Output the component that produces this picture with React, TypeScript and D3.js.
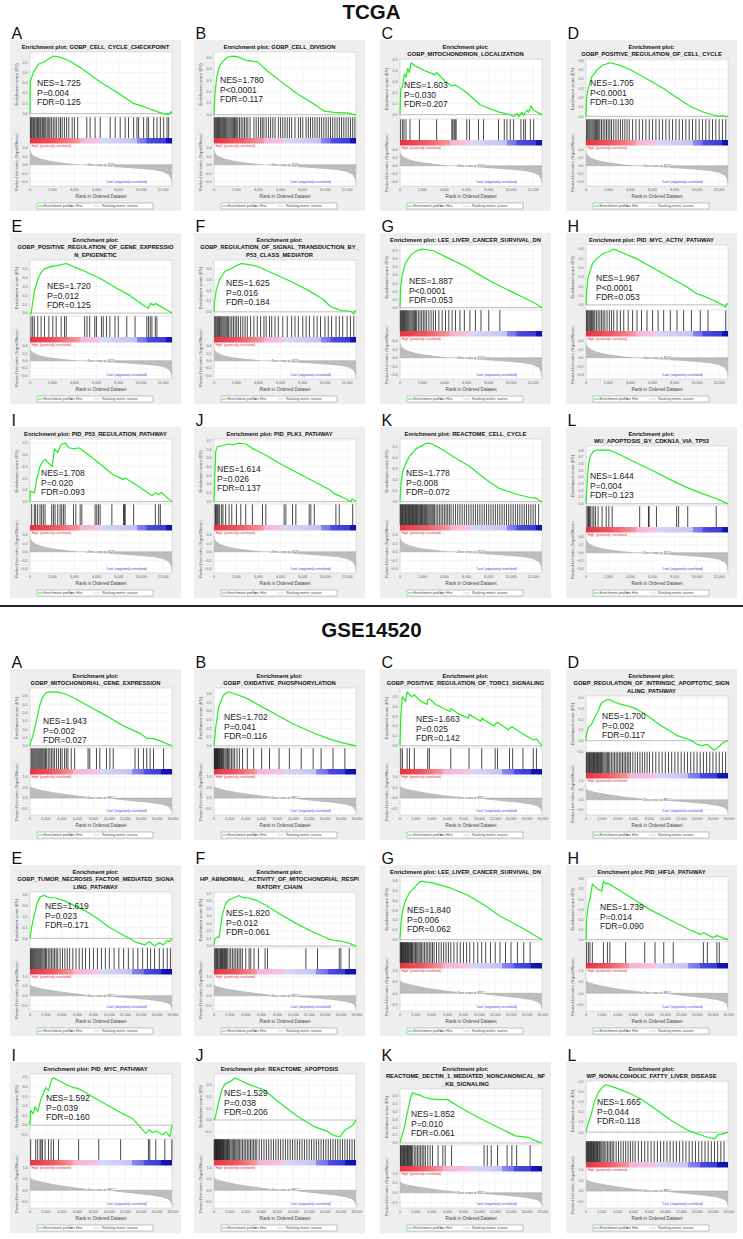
import React from 'react';
import * as d3 from 'd3';

type Pt = [number, number];
const FONT = "'Liberation Sans', Arial, Helvetica, sans-serif";

// ---------- shared axes / metric data ----------
const tcgaN = 12800;
const gseN = 17900;
const tcgaXTicks = [0, 2000, 4000, 6000, 8000, 10000, 12000];
const gseXTicks = [0, 2000, 4000, 6000, 8000, 10000, 12000, 14000, 16000, 18000];
const tcgaMetricTicks = [-0.4, -0.2, 0, 0.2, 0.4];
const gseMetricTicks = [-0.5, 0, 0.5, 1.0];
const tcgaMetricDomain: Pt = [-0.5, 0.5];
const gseMetricDomain: Pt = [-0.78, 1.09];
const tcgaZeroCross = 4520;
const gseZeroCross = 8912;
const tcgaMetric: Pt[] = [[0, 0.38], [50, 0.31], [200, 0.25], [500, 0.19], [1000, 0.14], [1800, 0.09], [3000, 0.05], [4520, 0], [6500, -0.04], [8500, -0.07], [10000, -0.1], [11200, -0.13], [12000, -0.17], [12500, -0.24], [12700, -0.33], [12800, -0.5]];
const gseMetric: Pt[] = [[0, 0.6], [100, 0.53], [500, 0.46], [1500, 0.37], [3000, 0.27], [5000, 0.16], [7000, 0.07], [8912, 0], [11000, -0.07], [13000, -0.14], [15000, -0.22], [16500, -0.3], [17300, -0.38], [17700, -0.48], [17900, -0.7]];

const letters = ['A', 'B', 'C', 'D', 'E', 'F', 'G', 'H', 'I', 'J', 'K', 'L'];

// ---------- TCGA ----------
const tcgaTitles: string[][] = [
  ['Enrichment plot: GOBP_CELL_CYCLE_CHECKPOINT'],
  ['Enrichment plot: GOBP_CELL_DIVISION'],
  ['Enrichment plot:', 'GOBP_MITOCHONDRION_LOCALIZATION'],
  ['Enrichment plot:', 'GOBP_POSITIVE_REGULATION_OF_CELL_CYCLE'],
  ['Enrichment plot:', 'GOBP_POSITIVE_REGULATION_OF_GENE_EXPRESSIO', 'N_EPIGENETIC'],
  ['Enrichment plot:', 'GOBP_REGULATION_OF_SIGNAL_TRANSDUCTION_BY_', 'P53_CLASS_MEDIATOR'],
  ['Enrichment plot: LEE_LIVER_CANCER_SURVIVAL_DN'],
  ['Enrichment plot: PID_MYC_ACTIV_PATHWAY'],
  ['Enrichment plot: PID_P53_REGULATION_PATHWAY'],
  ['Enrichment plot: PID_PLK1_PATHWAY'],
  ['Enrichment plot: REACTOME_CELL_CYCLE'],
  ['Enrichment plot:', 'WU_APOPTOSIS_BY_CDKN1A_VIA_TP53'],
];
const tcgaNES = ['1.725', '1.780', '1.603', '1.705', '1.720', '1.625', '1.887', '1.967', '1.708', '1.614', '1.778', '1.644'];
const tcgaP = ['P=0.004', 'P<0.0001', 'P=0.030', 'P<0.0001', 'P=0.012', 'P=0.016', 'P<0.0001', 'P<0.0001', 'P=0.020', 'P=0.026', 'P=0.008', 'P=0.004'];
const tcgaFDR = ['0.125', '0.117', '0.207', '0.130', '0.125', '0.184', '0.053', '0.053', '0.093', '0.137', '0.072', '0.123'];

const esTA: Pt[] = [[0, 0], [30, 0.32], [150, 0.35], [300, 0.4], [750, 0.48], [1200, 0.5], [1650, 0.53], [2100, 0.56], [2700, 0.55], [3600, 0.51], [4800, 0.43], [6300, 0.31], [7800, 0.21], [9300, 0.1], [10200, 0.07], [11450, 0.02], [12000, 0], [12500, -0.01], [12700, 0.02], [12800, 0]];
const esTB: Pt[] = [[0, 0], [90, 0.18], [240, 0.32], [450, 0.41], [750, 0.46], [1200, 0.5], [1660, 0.51], [2110, 0.505], [3010, 0.47], [3920, 0.46], [4820, 0.38], [6020, 0.29], [7530, 0.18], [9040, 0.09], [9940, 0.03], [10840, 0.02], [11440, 0.015], [12050, 0.015], [12650, 0], [12800, 0]];
const esTC: Pt[] = [[0, 0], [60, 0.23], [240, 0.26], [390, 0.37], [540, 0.34], [700, 0.42], [850, 0.38], [990, 0.47], [1400, 0.44], [2200, 0.4], [3160, 0.36], [3300, 0.38], [4100, 0.3], [4670, 0.26], [4970, 0.27], [6000, 0.2], [7220, 0.09], [8730, 0.03], [9030, 0.02], [9930, 0], [10240, -0.02], [10540, 0.01], [10690, -0.02], [10990, 0.02], [11140, -0.005], [11440, 0.04], [11590, 0.02], [11800, 0.08], [12040, 0.04], [12800, 0]];
const esTD: Pt[] = [[0, 0], [60, 0.2], [200, 0.3], [500, 0.42], [1000, 0.5], [1500, 0.55], [2200, 0.575], [3000, 0.55], [4000, 0.5], [5500, 0.4], [7000, 0.3], [8200, 0.2], [9500, 0.1], [10500, 0.05], [11300, 0.02], [12000, 0], [12300, 0.01], [12600, -0.005], [12800, 0]];
const esTE: Pt[] = [[0, 0], [100, -0.01], [240, 0.12], [400, 0.25], [700, 0.38], [1000, 0.46], [1300, 0.5], [1700, 0.52], [2100, 0.53], [2500, 0.54], [3270, 0.56], [4000, 0.52], [5000, 0.47], [6500, 0.38], [7800, 0.28], [9000, 0.2], [10300, 0.08], [10690, 0.055], [10850, 0.11], [11150, 0.09], [11300, 0.11], [12800, 0]];
const esTF: Pt[] = [[0, 0], [60, 0.1], [200, 0.2], [500, 0.3], [1000, 0.38], [1500, 0.4], [2000, 0.43], [2500, 0.45], [3200, 0.44], [4000, 0.42], [5500, 0.35], [7000, 0.28], [8500, 0.2], [9800, 0.12], [10500, 0.05], [11000, 0.03], [11500, 0.01], [12000, 0.01], [12400, 0], [12600, -0.02], [12700, 0.01], [12800, 0.005]];
const esTG: Pt[] = [[0, 0], [60, 0.25], [200, 0.4], [500, 0.55], [1000, 0.65], [1500, 0.7], [2000, 0.72], [3000, 0.7], [4500, 0.6], [6000, 0.5], [7200, 0.4], [8500, 0.3], [10000, 0.2], [11500, 0.1], [12200, 0.05], [12800, 0]];
const esTH: Pt[] = [[0, 0], [60, 0.15], [200, 0.3], [600, 0.45], [1000, 0.5], [1500, 0.55], [2200, 0.58], [2500, 0.6], [3500, 0.55], [4500, 0.5], [6000, 0.4], [7500, 0.3], [9000, 0.2], [10000, 0.12], [10500, 0.1], [11500, 0.05], [12300, 0], [12600, -0.03], [12650, 0.01], [12800, 0.01]];
const esTI: Pt[] = [[0, 0], [20, 0.09], [400, 0.075], [600, 0.19], [900, 0.3], [1200, 0.35], [1400, 0.36], [1650, 0.33], [2000, 0.3], [2200, 0.45], [2500, 0.42], [2800, 0.49], [3200, 0.5], [3500, 0.46], [4000, 0.45], [4400, 0.46], [5000, 0.42], [6200, 0.33], [7500, 0.23], [8400, 0.19], [8600, 0.2], [9800, 0.13], [11000, 0.05], [11300, 0.075], [11600, 0.06], [11800, 0.08], [12800, 0]];
const esTJ: Pt[] = [[0, 0], [150, 0.57], [300, 0.63], [750, 0.64], [1350, 0.66], [1650, 0.65], [2250, 0.67], [2860, 0.66], [3460, 0.61], [4670, 0.53], [6170, 0.42], [7680, 0.32], [9190, 0.22], [10390, 0.14], [11000, 0.08], [11440, 0.06], [12350, 0], [12440, 0.03], [12800, 0.01]];
const esTK: Pt[] = [[0, 0], [100, 0.17], [240, 0.27], [540, 0.35], [840, 0.41], [1140, 0.44], [1440, 0.48], [1890, 0.5], [2190, 0.52], [2490, 0.53], [2940, 0.52], [3850, 0.47], [4750, 0.41], [6250, 0.32], [7750, 0.2], [8950, 0.12], [9850, 0.09], [10750, 0.06], [11660, 0.04], [12260, 0.03], [12800, 0]];
const esTL: Pt[] = [[0, 0], [120, 0.35], [240, 0.6], [390, 0.72], [690, 0.79], [1090, 0.81], [1450, 0.8], [1750, 0.81], [2200, 0.8], [3270, 0.72], [4480, 0.62], [5990, 0.5], [7500, 0.37], [9020, 0.25], [10530, 0.15], [11740, 0.08], [12800, 0]];

const hitsTA = [40, 120, 200, 300, 380, 450, 560, 650, 720, 800, 900, 980, 1100, 1180, 1260, 1350, 1450, 1600, 1700, 1800, 1950, 2100, 2250, 2400, 2600, 2750, 2900, 3100, 3300, 3500, 3800, 4000, 4300, 5120, 5420, 5870, 6330, 7230, 7680, 8130, 8580, 8880, 9340, 9640, 9790, 10240, 10540, 10690, 11150, 11450, 11750, 12050, 12350, 12500];
const hitsTB = [30, 100, 180, 250, 330, 400, 480, 560, 640, 720, 800, 880, 960, 1050, 1150, 1250, 1350, 1450, 1550, 1650, 1750, 1850, 1950, 2050, 2150, 2300, 2450, 2600, 2750, 2900, 3050, 3250, 3600, 3800, 4000, 4200, 4350, 4500, 4700, 4900, 5100, 5300, 5500, 5800, 6000, 6200, 6400, 6600, 6800, 7000, 7300, 7600, 7800, 8000, 8300, 8500, 8700, 8900, 9100, 9300, 9500, 9700, 9900, 10100, 10300, 10500, 10700, 10900, 11100, 11300, 11500, 11700, 11900, 12100, 12300, 12500, 12700];
const hitsTC = [60, 240, 360, 540, 900, 1750, 3300, 4670, 4760, 4880, 4970, 5060, 6020, 6260, 7080, 7530, 8880, 9400, 9640, 9940, 10240, 10900, 11150, 11300, 11750, 12050];
const hitsTD = [50, 150, 250, 350, 450, 550, 650, 750, 850, 950, 1050, 1150, 1250, 1400, 1550, 1700, 1850, 2000, 2150, 2300, 2500, 2700, 2900, 3100, 3300, 3500, 3700, 3900, 4200, 4500, 4800, 5100, 5400, 5700, 6000, 6300, 6600, 6900, 7200, 7500, 7800, 8100, 8400, 8700, 9000, 9300, 9600, 9900, 10200, 10500, 10800, 11100, 11400, 11700, 12000, 12300, 12600];
const hitsTE = [90, 240, 390, 700, 1000, 1300, 1700, 2060, 2360, 2810, 3110, 3270, 4930, 5140, 5380, 5840, 5990, 6440, 6600, 6900, 7200, 7660, 7960, 8720, 9470, 10530, 10680, 10840, 10990, 11290, 11440];
const hitsTF = [60, 150, 250, 330, 420, 500, 600, 700, 800, 900, 1000, 1100, 1200, 1300, 1450, 1600, 1750, 1900, 2050, 2200, 2400, 2600, 2800, 3000, 3300, 3600, 3900, 4200, 4500, 4700, 5000, 5200, 5500, 5800, 6200, 6600, 7000, 7300, 7600, 8000, 8300, 8600, 9000, 9300, 9600, 10000, 10300, 10600, 11000, 11300, 11600, 12000, 12300, 12600];
const hitsTG = [30, 100, 170, 240, 320, 400, 480, 560, 640, 720, 800, 900, 1000, 1100, 1200, 1300, 1400, 1500, 1650, 1800, 1950, 2100, 2250, 2400, 2600, 2800, 3000, 3200, 3500, 3800, 4100, 4400, 4700, 5000, 5400, 5800, 6300, 6800, 7300, 8000, 9000];
const hitsTH = [40, 120, 200, 300, 400, 500, 600, 700, 800, 950, 1100, 1250, 1400, 1550, 1700, 1900, 2100, 2300, 2500, 2800, 3100, 3400, 3800, 4200, 4600, 5000, 5500, 6000, 6500, 7000, 7600, 8200, 8800, 9500, 10300, 11000, 12600];
const hitsTI = [150, 390, 510, 690, 900, 1050, 1200, 1360, 1960, 2110, 2260, 2500, 2710, 2860, 3010, 3160, 3920, 4130, 4520, 4670, 5870, 6020, 6170, 6320, 7380, 8430, 8520, 8580, 9340, 11300, 11600, 11750];
const hitsTJ = [90, 150, 210, 300, 390, 510, 690, 810, 1050, 1360, 1600, 2020, 2410, 2860, 3460, 4370, 4670, 6320, 6480, 7080, 7380, 8580, 8730, 9040, 10990, 11290, 12500];
const hitsTK = [20, 80, 150, 220, 290, 360, 430, 500, 570, 640, 710, 780, 850, 920, 990, 1060, 1130, 1200, 1270, 1340, 1410, 1480, 1550, 1620, 1700, 1780, 1860, 1940, 2020, 2100, 2200, 2300, 2400, 2500, 2600, 2700, 2800, 2900, 3000, 3100, 3250, 3400, 3550, 3700, 3850, 4000, 4150, 4300, 4450, 4600, 4800, 5000, 5200, 5400, 5600, 5800, 6000, 6200, 6400, 6600, 6800, 7000, 7200, 7400, 7600, 7800, 8000, 8200, 8400, 8600, 8800, 9000, 9200, 9400, 9600, 9800, 10000, 10200, 10400, 10600, 10800, 11000, 11200, 11400, 11600, 11800, 12000, 12200, 12500];
const hitsTL = [90, 180, 240, 300, 390, 550, 700, 850, 1090, 1450, 1820, 2060, 2360, 4840, 5630, 5690, 6350, 8170, 8350, 9170, 11740];

// ---------- GSE14520 ----------
const gseTitles: string[][] = [
  ['Enrichment plot:', 'GOBP_MITOCHONDRIAL_GENE_EXPRESSION'],
  ['Enrichment plot:', 'GOBP_OXIDATIVE_PHOSPHORYLATION'],
  ['Enrichment plot:', 'GOBP_POSITIVE_REGULATION_OF_TORC1_SIGNALING'],
  ['Enrichment plot:', 'GOBP_REGULATION_OF_INTRINSIC_APOPTOTIC_SIGN', 'ALING_PATHWAY'],
  ['Enrichment plot:', 'GOBP_TUMOR_NECROSIS_FACTOR_MEDIATED_SIGNA', 'LING_PATHWAY'],
  ['Enrichment plot:', 'HP_ABNORMAL_ACTIVITY_OF_MITOCHONDRIAL_RESPI', 'RATORY_CHAIN'],
  ['Enrichment plot: LEE_LIVER_CANCER_SURVIVAL_DN'],
  ['Enrichment plot: PID_HIF1A_PATHWAY'],
  ['Enrichment plot: PID_MYC_PATHWAY'],
  ['Enrichment plot: REACTOME_APOPTOSIS'],
  ['Enrichment plot:', 'REACTOME_DECTIN_1_MEDIATED_NONCANONICAL_NF', '_KB_SIGNALING'],
  ['Enrichment plot:', 'WP_NONALCOHOLIC_FATTY_LIVER_DISEASE'],
];
const gseNES = ['1.943', '1.702', '1.663', '1.700', '1.619', '1.820', '1.840', '1.739', '1.592', '1.529', '1.852', '1.665'];
const gseP = ['P=0.002', 'P=0.041', 'P=0.025', 'P=0.002', 'P=0.023', 'P=0.012', 'P=0.006', 'P=0.014', 'P=0.039', 'P=0.038', 'P=0.010', 'P=0.044'];
const gseFDR = ['0.027', '0.116', '0.142', '0.117', '0.171', '0.061', '0.062', '0.090', '0.160', '0.206', '0.061', '0.118'];

const esGA: Pt[] = [[0, 0], [127, 0.06], [340, 0.11], [760, 0.28], [1185, 0.47], [1610, 0.59], [2030, 0.64], [2450, 0.645], [2880, 0.65], [3510, 0.645], [4570, 0.62], [5840, 0.56], [7530, 0.47], [9650, 0.36], [11760, 0.24], [13880, 0.15], [14730, 0.09], [15570, 0.086], [16420, 0.06], [17900, 0]];
const esGB: Pt[] = [[0, 0], [200, 0.2], [600, 0.45], [1200, 0.58], [1800, 0.62], [2500, 0.6], [4000, 0.55], [6000, 0.45], [8000, 0.35], [10000, 0.25], [12500, 0.15], [14500, 0.08], [16000, 0.04], [17900, 0]];
const esGC: Pt[] = [[0, 0], [100, 0.3], [300, 0.5], [700, 0.45], [900, 0.55], [1200, 0.52], [1500, 0.5], [1800, 0.52], [2500, 0.46], [3400, 0.42], [3500, 0.47], [3700, 0.48], [4500, 0.42], [6300, 0.35], [6400, 0.38], [7500, 0.32], [8600, 0.28], [8700, 0.32], [10200, 0.25], [10300, 0.28], [11900, 0.2], [12000, 0.22], [12300, 0.24], [13700, 0.16], [13800, 0.18], [14200, 0.19], [15500, 0.12], [16800, 0.06], [17200, 0.07], [17900, 0]];
const esGD: Pt[] = [[0, 0], [85, 0.07], [340, 0.13], [640, 0.146], [1060, 0.21], [1480, 0.27], [1910, 0.35], [2550, 0.38], [2970, 0.385], [3600, 0.36], [4450, 0.34], [5510, 0.32], [6360, 0.295], [7630, 0.24], [9330, 0.146], [11450, 0.05], [13150, 0.006], [13990, -0.034], [14640, -0.046], [15270, -0.034], [16120, -0.087], [16540, -0.07], [16970, -0.04], [17180, -0.025], [17390, -0.015], [17900, 0]];
const esGE: Pt[] = [[0, 0], [200, 0.1], [500, 0.2], [900, 0.32], [1300, 0.38], [1800, 0.39], [2500, 0.37], [3200, 0.37], [4000, 0.35], [4700, 0.33], [5500, 0.3], [7000, 0.25], [8500, 0.18], [10000, 0.1], [11500, 0.04], [12500, 0], [13500, -0.04], [14500, -0.06], [15000, -0.03], [15700, -0.07], [16300, -0.04], [16800, -0.06], [17300, -0.02], [17600, -0.03], [17900, 0]];
const esGF: Pt[] = [[0, 0], [126, 0.1], [420, 0.12], [630, 0.115], [840, 0.26], [1050, 0.41], [1470, 0.57], [1900, 0.61], [2320, 0.63], [2740, 0.65], [3160, 0.67], [3580, 0.645], [4210, 0.64], [5260, 0.61], [6530, 0.54], [8210, 0.43], [10320, 0.3], [12430, 0.19], [14530, 0.09], [15370, 0.07], [16210, 0.06], [17060, 0.035], [17900, 0]];
const esGG: Pt[] = [[0, 0], [126, 0.17], [337, 0.3], [630, 0.39], [1260, 0.49], [1900, 0.54], [2320, 0.58], [2740, 0.6], [3370, 0.59], [4210, 0.58], [6320, 0.53], [8420, 0.46], [10530, 0.36], [12640, 0.24], [14740, 0.15], [16430, 0.07], [17900, 0]];
const esGH: Pt[] = [[0, 0], [80, 0.2], [300, 0.35], [500, 0.4], [800, 0.55], [1500, 0.5], [2000, 0.48], [2200, 0.58], [2500, 0.55], [2700, 0.56], [4000, 0.5], [6000, 0.4], [8000, 0.3], [10500, 0.2], [13000, 0.1], [14500, 0.05], [14800, 0.07], [16000, 0.02], [16500, 0.04], [17900, 0]];
const esGI: Pt[] = [[0, 0], [85, 0.155], [420, 0.12], [630, 0.19], [970, 0.14], [1270, 0.24], [1480, 0.29], [1820, 0.36], [1990, 0.39], [2330, 0.36], [2750, 0.48], [2960, 0.49], [3600, 0.465], [4870, 0.41], [5500, 0.39], [6140, 0.38], [8680, 0.26], [11220, 0.14], [12910, 0.07], [14600, -0.086], [15020, -0.05], [15440, -0.08], [15870, -0.06], [16710, -0.1], [17140, -0.07], [17640, -0.12], [17900, 0]];
const esGJ: Pt[] = [[0, 0], [130, 0.014], [550, 0.14], [980, 0.26], [1400, 0.31], [2040, 0.33], [2680, 0.36], [3320, 0.34], [4590, 0.3], [6290, 0.26], [8420, 0.14], [10540, 0.03], [12670, -0.057], [14370, -0.1], [15220, -0.137], [15860, -0.143], [16500, -0.086], [16920, -0.07], [17560, -0.04], [17900, 0]];
const esGK: Pt[] = [[0, 0], [170, 0.07], [510, 0.18], [850, 0.35], [1150, 0.49], [1360, 0.58], [1570, 0.64], [2000, 0.62], [2420, 0.61], [3050, 0.58], [3900, 0.56], [4750, 0.55], [6020, 0.55], [7300, 0.47], [9000, 0.37], [11110, 0.26], [13230, 0.156], [14500, 0.09], [15360, 0.08], [16200, 0.07], [17050, 0.03], [17900, 0]];
const esGL: Pt[] = [[0, 0], [210, 0.07], [640, 0.17], [1070, 0.3], [1490, 0.38], [1920, 0.43], [2470, 0.465], [3200, 0.45], [4260, 0.42], [5540, 0.38], [6820, 0.33], [8520, 0.24], [10650, 0.12], [12790, 0.02], [14920, -0.04], [16200, -0.065], [16620, -0.026], [17260, -0.016], [17900, 0]];

const hitsGA = [130, 250, 380, 500, 630, 760, 890, 1020, 1150, 1280, 1400, 1530, 1660, 1800, 1950, 2100, 2300, 2500, 2700, 2900, 3100, 3350, 3600, 3850, 4050, 4360, 4570, 4780, 5200, 5630, 7320, 7530, 8380, 8800, 9640, 10070, 10490, 13240, 13660, 14300, 14720, 15140, 15570, 16840];
const hitsGB = [40, 100, 160, 230, 300, 370, 440, 520, 600, 680, 760, 850, 950, 1050, 1150, 1250, 1400, 1550, 1700, 1850, 2000, 2200, 2400, 2600, 2900, 3200, 3600, 4200, 5000, 6000, 7000, 8200, 9500, 11000, 12500, 13500, 15000, 16500];
const hitsGC = [100, 300, 900, 1200, 1800, 3500, 3700, 6400, 8700, 10300, 12000, 12300, 13800, 14200, 15500, 16800, 17200];
const hitsGD = [50, 150, 250, 350, 450, 550, 650, 750, 850, 950, 1050, 1150, 1250, 1350, 1450, 1550, 1650, 1750, 1850, 1950, 2100, 2250, 2400, 2550, 2700, 2850, 3000, 3200, 3400, 3600, 3800, 4000, 4200, 4400, 4600, 4800, 5000, 5200, 5400, 5600, 5900, 6200, 6500, 6800, 7100, 7400, 7700, 8000, 8400, 8800, 9200, 9600, 10000, 10400, 10800, 11200, 11600, 12000, 12400, 12800, 13200, 13600, 14000, 14400, 14800, 15200, 15600, 16000, 16400, 16800, 17200, 17600];
const hitsGE = [60, 180, 300, 420, 540, 660, 780, 900, 1020, 1140, 1260, 1380, 1500, 1650, 1800, 1950, 2100, 2300, 2500, 2700, 2900, 3100, 3300, 3500, 3800, 4100, 4400, 4700, 5000, 5400, 5800, 6200, 6600, 7000, 7500, 8000, 8500, 9000, 9500, 10000, 10600, 11200, 11800, 12400, 13000, 13600, 14200, 14800, 15200, 15700, 16300, 16800, 17300, 17700];
const hitsGF = [80, 210, 300, 420, 500, 630, 750, 840, 950, 1050, 1150, 1260, 1350, 1470, 1550, 1680, 1900, 2100, 2320, 2530, 2740, 2950, 3160, 3370, 3580, 4000, 4420, 4630, 5050, 5600, 6440, 6740, 11580, 13050, 15790, 16000, 17050];
const hitsGG = [30, 110, 190, 270, 350, 430, 510, 600, 690, 780, 870, 960, 1050, 1150, 1250, 1350, 1450, 1550, 1650, 1800, 1950, 2100, 2250, 2400, 2550, 2700, 2900, 3100, 3300, 3500, 3700, 3900, 4100, 4300, 4600, 4900, 5200, 5500, 5800, 6100, 6400, 6800, 7200, 7600, 8000, 8400, 8800, 9300, 9800, 10300, 10800, 11400, 12000, 12600, 13300, 14000, 14800, 15600, 16400];
const hitsGH = [80, 300, 500, 800, 2200, 2700, 3000, 5000, 7400, 8700, 9800, 11000, 14800, 15300, 16500, 16800];
const hitsGI = [85, 720, 970, 1270, 1400, 1570, 1900, 2330, 2660, 2960, 3600, 6130, 8670, 11420, 14930, 15100, 15860, 17000, 17890];
const hitsGJ = [30, 100, 170, 240, 310, 380, 450, 520, 590, 660, 730, 800, 880, 960, 1040, 1120, 1200, 1300, 1400, 1500, 1600, 1700, 1800, 1900, 2000, 2150, 2300, 2450, 2600, 2750, 2900, 3050, 3200, 3400, 3600, 3800, 4000, 4200, 4400, 4600, 4800, 5000, 5200, 5400, 5700, 6000, 6300, 6600, 6900, 7200, 7500, 7800, 8100, 8400, 8700, 9000, 9300, 9600, 9900, 10200, 10500, 10800, 11100, 11400, 11700, 12000, 12300, 12600, 12900, 13200, 13500, 13800, 14100, 14400, 14700, 15000, 15300, 15600, 15900, 16200, 16500, 16800, 17100, 17400, 17700];
const hitsGK = [60, 150, 250, 350, 450, 550, 650, 750, 850, 950, 1050, 1150, 1250, 1350, 1450, 1600, 1800, 2000, 2200, 2400, 2600, 2800, 3000, 3200, 3500, 3800, 4100, 4800, 5400, 5700, 6500, 10600, 11000, 11500, 12300, 13500, 14100, 14700, 16400];
const hitsGL = [40, 130, 220, 310, 400, 490, 580, 670, 760, 850, 950, 1050, 1150, 1250, 1350, 1450, 1550, 1700, 1850, 2000, 2150, 2300, 2500, 2700, 2900, 3100, 3300, 3500, 3800, 4100, 4400, 4700, 5000, 5300, 5600, 5900, 6200, 6600, 7000, 7400, 7800, 8200, 8600, 9000, 9400, 9800, 10200, 10600, 11000, 11400, 11800, 12200, 12600, 13000, 13400, 13800, 14200, 14600, 15000, 15400, 15800, 16200, 16600, 17000, 17400];

const tcgaES = [esTA, esTB, esTC, esTD, esTE, esTF, esTG, esTH, esTI, esTJ, esTK, esTL];
const tcgaHits = [hitsTA, hitsTB, hitsTC, hitsTD, hitsTE, hitsTF, hitsTG, hitsTH, hitsTI, hitsTJ, hitsTK, hitsTL];
const gseES = [esGA, esGB, esGC, esGD, esGE, esGF, esGG, esGH, esGI, esGJ, esGK, esGL];
const gseHits = [hitsGA, hitsGB, hitsGC, hitsGD, hitsGE, hitsGF, hitsGG, hitsGH, hitsGI, hitsGJ, hitsGK, hitsGL];

// ---------- layout (positions, not data) ----------
const colX = [10, 194, 380, 566];
const tcgaRowY = [40, 233, 427];
const gseRowY = [669, 865, 1062];
const tcgaLabelPos: Pt[] = [[27, 46], [26, 43], [24, 48], [24, 46], [37, 56], [32, 53], [29, 51], [30, 48], [31, 49], [23, 45], [26, 49], [24, 52]];
const gseLabelPos: Pt[] = [[33, 55], [30, 51], [36, 53], [36, 50], [35, 44], [32, 51], [27, 48], [34, 45], [36, 39], [30, 34], [31, 55], [31, 43]];

const cbStopsTCGA: [number, string][] = [[0, '#e8323e'], [0.18, '#ef5862'], [0.35, '#f7999e'], [0.351, '#f3b2d6'], [0.49, '#f6c6e1'], [0.491, '#d8d8f7'], [0.75, '#c3c3f2'], [0.751, '#8a8aef'], [0.82, '#7272ea'], [0.821, '#4d4de0'], [0.96, '#3a3ad6'], [0.961, '#1717b8'], [1, '#0f0fae']];
const cbStopsGSE: [number, string][] = [[0, '#e8323e'], [0.16, '#ef5862'], [0.3, '#f7999e'], [0.301, '#f3b2d6'], [0.49, '#f6c6e1'], [0.491, '#d8d8f7'], [0.72, '#c3c3f2'], [0.721, '#8a8aef'], [0.8, '#7272ea'], [0.801, '#4d4de0'], [0.92, '#3a3ad6'], [0.921, '#1717b8'], [1, '#0f0fae']];

const PW = 171;
const PH = 171;

interface PanelProps {
  bx: number; by: number; letter: string; title: string[]; es: Pt[]; hits: number[];
  nes: string; p: string; fdr: string; lab: Pt; N: number; xTicks: number[];
  metric: Pt[]; mTicks: number[]; mDomain: Pt; zc: number; grad: string;
}

function Panel(pp: PanelProps) {
  const { bx, by, letter, title, es, hits, nes, p, fdr, lab, N, xTicks, metric, mTicks, mDomain, zc, grad } = pp;
  const nl = title.length;
  const esTop = by + [0, 12, 19, 27][nl];
  const esBot = by + [0, 77, 79, 83][nl];
  const hitsBot = esBot + 21;
  const cbBot = hitsBot + 5.5;
  const axisY = by + 146;
  const x0 = bx + 20, x1 = bx + 162;
  const xs = d3.scaleLinear().domain([0, N]).range([x0, x1]);
  const vals = es.map(d => d[1]);
  const lo = Math.min(0, d3.min(vals) as number);
  const hi = d3.max(vals) as number;
  const r = hi - lo;
  const ys = d3.scaleLinear().domain([lo - 0.04 * r, hi + 0.07 * r]).range([esBot, esTop]);
  const [d0, d1] = ys.domain();
  const yt = d3.range(Math.ceil(d0 * 10 - 1e-6), Math.floor(d1 * 10 + 1e-6) + 1).map(v => v / 10);
  const ms = d3.scaleLinear().domain(mDomain).range([axisY, cbBot]);
  const esLine = d3.line<Pt>().x(d => xs(d[0])).y(d => ys(d[1]));
  const mArea = d3.area<Pt>().x(d => xs(d[0])).y0(ms(0)).y1(d => ms(d[1]));
  const fx = d3.format(',');
  const fy = d3.format('.1f');
  const tick = 3.6;
  const cx = bx + PW / 2;
  const zx = xs(N / 2);
  return (
    <g>
      <text x={bx + 1.5} y={by - 1} fontSize={16} fill="#111">{letter}</text>
      <rect x={bx} y={by} width={PW} height={PH} fill="#eeeeee" />
      {title.map((t, i) => (
        <text key={i} x={cx} y={by + 8.5 + i * 7.8} textAnchor="middle" fontSize={5.8} fontWeight="bold" fill="#111">{t}</text>
      ))}
      <rect x={x0} y={esTop} width={x1 - x0} height={axisY - esTop} fill="#fff" stroke="#b8b8b8" strokeWidth={0.4} />
      {xTicks.map(v => (
        <g key={'gx' + v}>
          <line x1={xs(v)} x2={xs(v)} y1={esTop} y2={esBot} stroke="#e6e6e6" strokeWidth={0.4} />
          <line x1={xs(v)} x2={xs(v)} y1={cbBot} y2={axisY} stroke="#e6e6e6" strokeWidth={0.4} />
        </g>
      ))}
      {yt.map(v => (
        <line key={'gy' + v} x1={x0} x2={x1} y1={ys(v)} y2={ys(v)} stroke="#e6e6e6" strokeWidth={0.4} />
      ))}
      {mTicks.map(v => (
        <line key={'gm' + v} x1={x0} x2={x1} y1={ms(v)} y2={ms(v)} stroke="#e6e6e6" strokeWidth={0.4} />
      ))}
      <line x1={x0} x2={x1} y1={ys(0)} y2={ys(0)} stroke="#9a9a9a" strokeWidth={0.6} />
      <line x1={x0} x2={x1} y1={esBot} y2={esBot} stroke="#b8b8b8" strokeWidth={0.4} />
      {hits.map((h, i) => (
        <line key={'h' + i} x1={xs(h)} x2={xs(h)} y1={esBot + 0.3} y2={hitsBot} stroke="#000" strokeWidth={0.85} strokeOpacity={0.85} />
      ))}
      <rect x={x0} y={hitsBot} width={x1 - x0} height={cbBot - hitsBot} fill={`url(#${grad})`} />
      <path d={mArea(metric) || ''} fill="#bdbdbd" />
      <line x1={x0} x2={x1} y1={ms(0)} y2={ms(0)} stroke="#8f8f8f" strokeWidth={0.35} />
      <rect x={zx - 14} y={ms(0) - 1.6} width={28} height={3.2} fill="#fff" />
      <text x={zx} y={ms(0) + 1.2} textAnchor="middle" fontSize={3.3} fill="#444">{`Zero cross at ${zc}`}</text>
      <text x={x0 + 1} y={cbBot + 3.6} fontSize={3.3} fill="#e0303a">'High' (positively correlated)</text>
      <text x={x0 + (x1 - x0) * 0.68} y={axisY - 3} textAnchor="middle" fontSize={3.3} fill="#4040f0">'Low' (negatively correlated)</text>
      <path d={esLine(es) || ''} fill="none" stroke="#22ee22" strokeWidth={1.2} strokeLinejoin="round" />
      {yt.map(v => (
        <text key={'ty' + v} x={x0 - 2.5} y={ys(v) + 1.3} textAnchor="end" fontSize={tick} fill="#666">{fy(v)}</text>
      ))}
      {mTicks.map(v => (
        <text key={'tm' + v} x={x0 - 2.5} y={ms(v) + 1.3} textAnchor="end" fontSize={tick} fill="#666">{fy(v)}</text>
      ))}
      {xTicks.map(v => (
        <text key={'tx' + v} x={xs(v)} y={axisY + 5} textAnchor="middle" fontSize={tick} fill="#666">{fx(v)}</text>
      ))}
      <text x={(x0 + x1) / 2} y={axisY + 11.5} textAnchor="middle" fontSize={4.6} fill="#444">Rank in Ordered Dataset</text>
      <text transform={`translate(${bx + 8},${(esTop + esBot) / 2}) rotate(-90)`} textAnchor="middle" fontSize={4.2} fill="#555">Enrichment score (ES)</text>
      <text transform={`translate(${bx + 8},${(hitsBot + axisY) / 2}) rotate(-90)`} textAnchor="middle" fontSize={3.9} fill="#555">Ranked list metric (Signal2Noise)</text>
      <text x={bx + lab[0]} y={by + lab[1]} fontSize={8.5} fill="#222">{`NES=${nes}`}</text>
      <text x={bx + lab[0]} y={by + lab[1] + 9.7} fontSize={8.5} fill="#222">{p}</text>
      <text x={bx + lab[0]} y={by + lab[1] + 19.4} fontSize={8.5} fill="#222">{`FDR=${fdr}`}</text>
      <rect x={bx + 27} y={by + 163} width={116} height={6} fill="#fff" stroke="#8c8c8c" strokeWidth={0.5} />
      <line x1={bx + 28} x2={bx + 33} y1={by + 166} y2={by + 166} stroke="#22ee22" strokeWidth={0.9} />
      <text x={bx + 33.5} y={by + 167.3} fontSize={3.6} fill="#444">Enrichment profile</text>
      <line x1={bx + 60} x2={bx + 65} y1={by + 166} y2={by + 166} stroke="#333" strokeWidth={0.6} />
      <text x={bx + 66} y={by + 167.3} fontSize={3.6} fill="#444">Hits</text>
      <line x1={bx + 83} x2={bx + 90} y1={by + 166} y2={by + 166} stroke="#bbb" strokeWidth={0.6} />
      <text x={bx + 92} y={by + 167.3} fontSize={3.6} fill="#444">Ranking metric scores</text>
    </g>
  );
}

export default function App() {
  const panels: React.ReactNode[] = [];
  letters.forEach((L, i) => {
    const col = i % 4, row = Math.floor(i / 4);
    panels.push(
      <Panel key={'t' + i} bx={colX[col]} by={tcgaRowY[row]} letter={L} title={tcgaTitles[i]} es={tcgaES[i]} hits={tcgaHits[i]}
        nes={tcgaNES[i]} p={tcgaP[i]} fdr={tcgaFDR[i]} lab={tcgaLabelPos[i]} N={tcgaN} xTicks={tcgaXTicks}
        metric={tcgaMetric} mTicks={tcgaMetricTicks} mDomain={tcgaMetricDomain} zc={tcgaZeroCross} grad="cbT" />
    );
    panels.push(
      <Panel key={'g' + i} bx={colX[col]} by={gseRowY[row]} letter={L} title={gseTitles[i]} es={gseES[i]} hits={gseHits[i]}
        nes={gseNES[i]} p={gseP[i]} fdr={gseFDR[i]} lab={gseLabelPos[i]} N={gseN} xTicks={gseXTicks}
        metric={gseMetric} mTicks={gseMetricTicks} mDomain={gseMetricDomain} zc={gseZeroCross} grad="cbG" />
    );
  });
  return (
    <svg width={743} height={1239} style={{ position: 'absolute', left: 0, top: 0, background: '#fff' }} fontFamily={FONT}>
      <defs>
        <linearGradient id="cbT" x1="0" x2="1" y1="0" y2="0">
          {cbStopsTCGA.map(([o, c], i) => <stop key={i} offset={o} stopColor={c} />)}
        </linearGradient>
        <linearGradient id="cbG" x1="0" x2="1" y1="0" y2="0">
          {cbStopsGSE.map(([o, c], i) => <stop key={i} offset={o} stopColor={c} />)}
        </linearGradient>
      </defs>
      <rect x={0} y={0} width={743} height={1239} fill="#fff" />
      <text x={371.5} y={19} textAnchor="middle" fontSize={20.5} fontWeight="bold" fill="#111">TCGA</text>
      <line x1={0} x2={743} y1={606} y2={606} stroke="#222" strokeWidth={1.8} />
      <text x={371.5} y={637} textAnchor="middle" fontSize={20.5} fontWeight="bold" fill="#111">GSE14520</text>
      {panels}
    </svg>
  );
}
